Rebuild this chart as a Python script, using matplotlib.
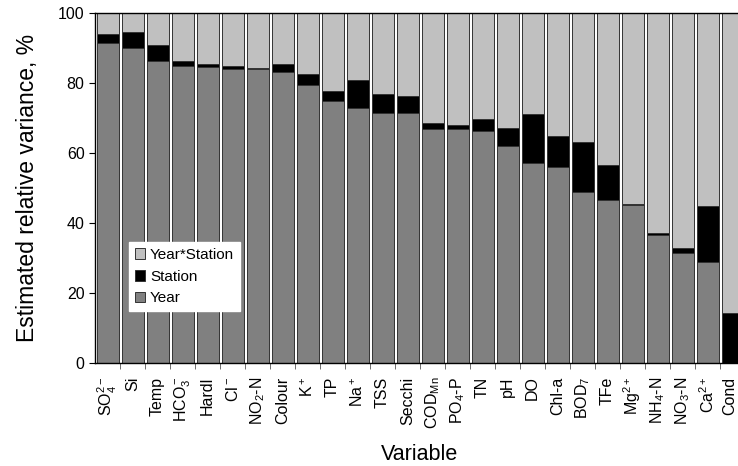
import numpy as np
import matplotlib
matplotlib.use('Agg')
import matplotlib.pyplot as plt
import matplotlib.transforms as mtransforms

# variables (x tick labels)
labels = ['SO$_4^{2-}$', 'Si', 'Temp', 'HCO$_3^-$', 'Hardl', 'Cl$^-$', 'NO$_2$-N',
          'Colour', 'K$^+$', 'TP', 'Na$^+$', 'TSS', 'Secchi', 'COD$_{Mn}$',
          'PO$_4$-P', 'TN', 'pH', 'DO', 'Chl-a', 'BOD$_7$', 'TFe', 'Mg$^{2+}$',
          'NH$_4$-N', 'NO$_3$-N', 'Ca$^{2+}$', 'Cond']

# variance components, %
year = [91.4, 90.0, 86.2, 84.9, 84.6, 84.0, 84.0, 83.1, 79.3, 74.9, 72.9, 71.4, 71.4,
        66.8, 66.8, 66.3, 62.0, 57.1, 56.0, 48.8, 46.5, 45.1, 36.5, 31.4, 28.9, 0.0]
station = [2.6, 4.5, 4.6, 1.3, 0.7, 0.8, 0.3, 2.2, 3.2, 2.8, 7.9, 5.4, 4.8,
           1.7, 1.1, 3.3, 5.1, 14.0, 8.8, 14.3, 10.0, 0.3, 0.6, 1.5, 15.9, 14.3]
year_station = [100 - a - b for a, b in zip(year, station)]

plt.rcParams['font.family'] = ['Liberation Sans', 'DejaVu Sans']
plt.rcParams['mathtext.fontset'] = 'custom'
plt.rcParams['mathtext.rm'] = 'Liberation Sans'
plt.rcParams['mathtext.it'] = 'Liberation Sans'

fig = plt.figure(figsize=(7.38, 4.66), dpi=100)
ax = fig.add_axes([95 / 738, 1 - 362.7 / 466, 650 / 738, 350 / 466])

x = np.arange(len(labels))
w = 0.88
ec = '#333333'
ax.bar(x, year, w, color='#808080', edgecolor=ec, linewidth=0.7, label='Year')
ax.bar(x, station, w, bottom=year, color='black', edgecolor=ec, linewidth=0.7,
       label='Station')
bot2 = [a + b for a, b in zip(year, station)]
ax.bar(x, year_station, w, bottom=bot2, color='#c0c0c0', edgecolor=ec,
       linewidth=0.7, label='Year*Station')

ax.set_xlim(-0.5, len(labels) - 0.5)
ax.set_ylim(0, 100)
ax.set_yticks([0, 20, 40, 60, 80, 100])
ax.tick_params(axis='y', labelsize=11.5, length=4, direction='out')
ax.set_xticks(x)
ax.set_xticklabels(labels, rotation=90, fontsize=11.5)
ax.tick_params(axis='x', length=0, pad=10)
ax.set_xticks(np.arange(0.5, len(labels) - 1, 1), minor=True)
ax.tick_params(axis='x', which='minor', length=4, color='#555555')
ax.spines['right'].set_visible(False)
for s in ['left', 'bottom', 'top']:
    ax.spines[s].set_linewidth(1.0)

# nudge the last label so it stays inside the figure
last = ax.get_xticklabels()[-1]
last.set_transform(last.get_transform() +
                   mtransforms.ScaledTranslation(-3 / 100, 0, fig.dpi_scale_trans))

ax.set_ylabel('Estimated relative variance, %', fontsize=16.5, labelpad=14)
ax.set_xlabel('Variable', fontsize=15.5, labelpad=11)

h, l = ax.get_legend_handles_labels()
leg = ax.legend(h[::-1], l[::-1], loc='lower left', bbox_to_anchor=(0.04, 0.125),
                fontsize=11, frameon=True, fancybox=False, framealpha=1,
                edgecolor='white', handlelength=0.7, handleheight=0.7,
                handletextpad=0.3, labelspacing=0.5, borderpad=0.4)

fig.savefig('out.png', dpi=100)
